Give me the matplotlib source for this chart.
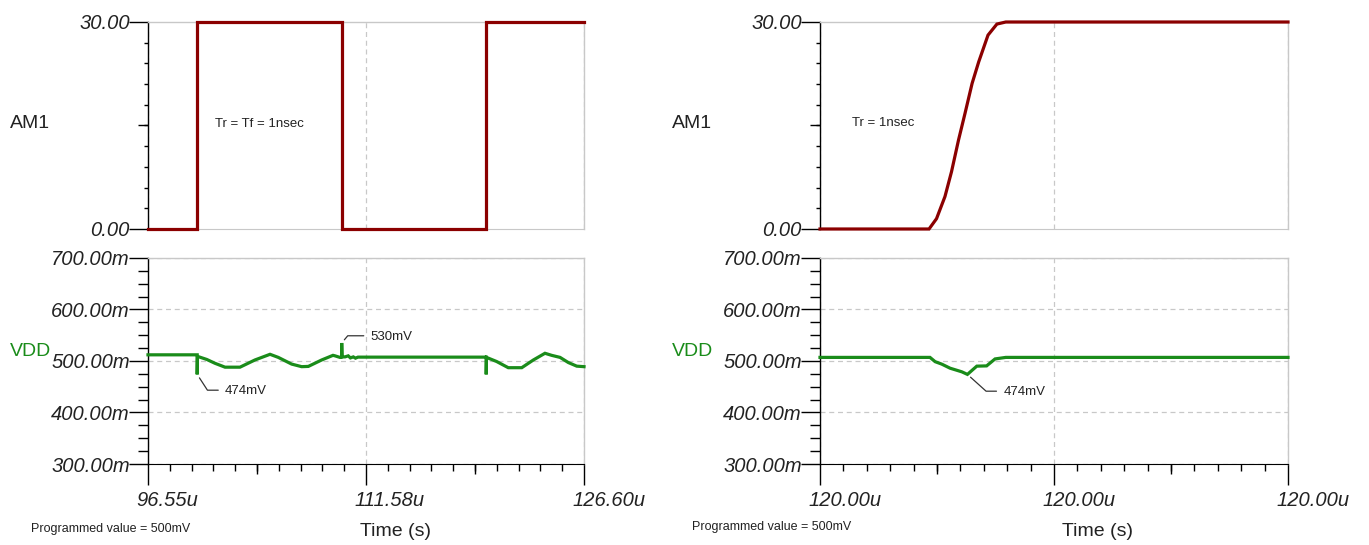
import numpy as np
import matplotlib
matplotlib.use("Agg")
import matplotlib.pyplot as plt
from matplotlib.ticker import FixedLocator

# ---------------- data ----------------
# left: time in microseconds
left_xlim = [96.55, 126.60]
left_xticklabels = ["96.55u", "111.58u", "126.60u"]
am1_left_t = [96.55, 99.94, 99.94, 109.92, 109.92, 119.86, 119.86, 126.60]
am1_left_v = [0, 0, 30, 30, 0, 0, 30, 30]
vdd_left_t = [96.55, 99.94, 99.94, 99.96, 100.60, 101.17, 101.86, 102.89, 103.92,
              104.96, 105.53, 106.45, 107.14, 107.60, 108.52, 109.30, 109.44, 109.78,
              109.90, 109.90, 109.92, 110.13, 110.35, 110.50, 110.70, 110.85, 111.02,
              111.51, 119.86, 119.86, 119.88, 120.58, 121.38, 122.31, 123.11, 123.91,
              124.37, 124.95, 125.52, 126.10, 126.60]
vdd_left_v = [512, 512, 474, 509, 503, 495.5, 488, 488, 502,
              513, 507, 494, 489, 489.5, 502, 511, 510, 507,
              508, 535, 508, 508, 510, 506, 508, 505.5, 507.5,
              507.5, 507.5, 474, 507, 499, 487, 487, 502, 515,
              511, 507, 497, 490, 489]

# right: time in ns within a 10 ns window around 120.00u
right_xlim = [0, 10]
right_xticklabels = ["120.00u", "120.00u", "120.00u"]
am1_right_t = [0, 2.33, 2.49, 2.67, 2.81, 2.96, 3.10, 3.25, 3.39, 3.59, 3.78, 3.97, 10]
am1_right_v = [0, 0, 1.5, 4.7, 8.3, 12.9, 16.8, 21.1, 24.2, 28.1, 29.7, 30, 30]
vdd_right_t = [0, 2.35, 2.46, 2.60, 2.78, 3.03, 3.15, 3.35, 3.56, 3.74, 3.97, 10]
vdd_right_v = [507, 507, 498.7, 494, 486, 479, 474, 490, 490.5, 504, 507, 507]

am1_ylim = [0, 30]
am1_yticks = [0, 30]
am1_yticklabels = ["0.00", "30.00"]
vdd_ylim = [300, 700]
vdd_yticks = [300, 400, 500, 600, 700]
vdd_yticklabels = ["300.00m", "400.00m", "500.00m", "600.00m", "700.00m"]

# annotation values
left_min_t, left_min_v, left_min_label = 99.94, 474, "474mV"
left_max_t, left_max_v, left_max_label = 109.90, 535, "530mV"
right_min_t, right_min_v, right_min_label = 3.15, 474, "474mV"

# ---------------- style ----------------
W, H = 1369, 545
RED = "#8b0000"
GREEN = "#1a8c1a"
GREY = "#c8c8c8"
FONT = ["Liberation Sans", "DejaVu Sans"]
plt.rcParams["font.family"] = FONT

fig = plt.figure(figsize=(W / 100, H / 100), dpi=100)


def rect(x0, y0, x1, y1):
    return [x0 / W, 1 - y1 / H, (x1 - x0) / W, (y1 - y0) / H]


def fx(x):
    return x / W


def fy(y):
    return 1 - y / H


tick_font = dict(family=FONT, style="italic", size=14.5, color="#222222")


def base_style(ax, xlim, ylim):
    ax.set_xlim(xlim)
    ax.set_ylim(ylim)
    ax.spines["left"].set_color("black")
    ax.spines["left"].set_linewidth(1.0)
    for s in ("top", "right"):
        ax.spines[s].set_color(GREY)
        ax.spines[s].set_linewidth(1.0)
    ax.tick_params(axis="y", which="major", direction="out", length=14, width=1,
                   pad=-1, colors="black", labelcolor="#222222")
    ax.tick_params(axis="y", which="minor", direction="out", width=1, colors="black")
    ax.set_facecolor("white")


def top_panel(ax, xlim, t, v):
    base_style(ax, xlim, am1_ylim)
    ax.spines["bottom"].set_color(GREY)
    ax.set_xticks([xlim[0], (xlim[0] + xlim[1]) / 2, xlim[1]])
    ax.tick_params(axis="x", which="both", length=0, labelbottom=False)
    ax.grid(axis="x", color=GREY, linestyle=(0, (4, 3)), linewidth=0.9)
    ax.set_yticks(am1_yticks)
    ax.set_yticklabels(am1_yticklabels, fontdict=tick_font)
    ax.yaxis.set_minor_locator(FixedLocator(np.arange(3, 30, 3)))
    ax.tick_params(axis="y", which="minor", length=3)
    sec = ax.secondary_yaxis("left")
    sec.set_yticks([15])
    sec.tick_params(length=7, width=1, labelleft=False)
    sec.spines["left"].set_visible(False)
    ax.plot(t, v, color=RED, lw=2.3, clip_on=False, zorder=5,
            solid_joinstyle="miter")


def bottom_panel(ax, xlim, t, v, xlabels):
    base_style(ax, xlim, vdd_ylim)
    ax.spines["bottom"].set_color("black")
    mid = (xlim[0] + xlim[1]) / 2
    ax.set_xticks([xlim[0], mid, xlim[1]])
    ax.set_xticklabels([])
    ax.xaxis.set_minor_locator(FixedLocator(np.linspace(xlim[0], xlim[1], 21)))
    ax.tick_params(axis="x", which="major", direction="out", length=15, width=1,
                   colors="black")
    ax.tick_params(axis="x", which="minor", direction="out", length=5, width=1,
                   colors="black")
    secx = ax.secondary_xaxis("bottom")
    secx.set_xticks([xlim[0] + (xlim[1] - xlim[0]) * 0.25,
                     xlim[0] + (xlim[1] - xlim[0]) * 0.75])
    secx.tick_params(length=7, width=1, labelbottom=False)
    secx.spines["bottom"].set_visible(False)
    ax.set_yticks(vdd_yticks)
    ax.set_yticklabels(vdd_yticklabels, fontdict=tick_font)
    ax.yaxis.set_minor_locator(FixedLocator(np.arange(300, 701, 25)))
    ax.tick_params(axis="y", which="minor", length=7)
    ax.grid(axis="both", which="major", color=GREY, linestyle=(0, (4, 3)),
            linewidth=0.9)
    ax.set_axisbelow(True)
    for xt, lab in zip([xlim[0], mid, xlim[1]], xlabels):
        ax.annotate(lab, xy=(xt, 0), xycoords=("data", "axes fraction"),
                    xytext=(-12, -36), textcoords="offset pixels",
                    ha="left", va="center", annotation_clip=False, **tick_font)
    ax.plot(t, v, color=GREEN, lw=2.3, clip_on=False, zorder=5,
            solid_joinstyle="miter")


def leader(ax, x, y, text, dx, dy, angleB):
    ax.annotate(text, xy=(x, y), xycoords="data",
                xytext=(dx, dy), textcoords="offset pixels",
                ha="left", va="center", fontsize=9.5, color="#222222",
                arrowprops=dict(arrowstyle="-", color="#333333", lw=0.9,
                                shrinkA=3, shrinkB=3, relpos=(0, 0.6),
                                connectionstyle=f"angle,angleA=0,angleB={angleB},rad=0"),
                zorder=6)


axTL = fig.add_axes(rect(148, 22, 584, 229))
axBL = fig.add_axes(rect(148, 258, 584, 464))
axTR = fig.add_axes(rect(820, 22, 1288, 229))
axBR = fig.add_axes(rect(820, 258, 1288, 464))

top_panel(axTL, left_xlim, am1_left_t, am1_left_v)
top_panel(axTR, right_xlim, am1_right_t, am1_right_v)
bottom_panel(axBL, left_xlim, vdd_left_t, vdd_left_v, left_xticklabels)
bottom_panel(axBR, right_xlim, vdd_right_t, vdd_right_v, right_xticklabels)

leader(axBL, left_min_t, left_min_v, left_min_label, 28, -17, -57)
leader(axBL, left_max_t, left_max_v, left_max_label, 29, 6, 50)
leader(axBR, right_min_t, right_min_v, right_min_label, 36, -18, -42)

# text labels
fig.text(fx(215), fy(124), "Tr = Tf = 1nsec", ha="left", va="center",
         fontsize=9.5, color="#222222")
fig.text(fx(852), fy(123), "Tr = 1nsec", ha="left", va="center",
         fontsize=9.5, color="#222222")

for x0 in (10, 672):
    fig.text(fx(x0), fy(123), "AM1", ha="left", va="center", fontsize=14,
             color="#222222")
    fig.text(fx(x0), fy(352), "VDD", ha="left", va="center", fontsize=14,
             color=GREEN)
fig.text(fx(31), fy(529), "Programmed value = 500mV", ha="left", va="center",
         fontsize=9, color="#222222")
fig.text(fx(692), fy(527), "Programmed value = 500mV", ha="left", va="center",
         fontsize=9, color="#222222")
fig.text(fx(396), fy(532), "Time (s)", ha="center", va="center", fontsize=14,
         color="#222222")
fig.text(fx(1097), fy(532), "Time (s)", ha="center", va="center", fontsize=14,
         color="#222222")

fig.savefig("out.png", dpi=100, facecolor="white")
